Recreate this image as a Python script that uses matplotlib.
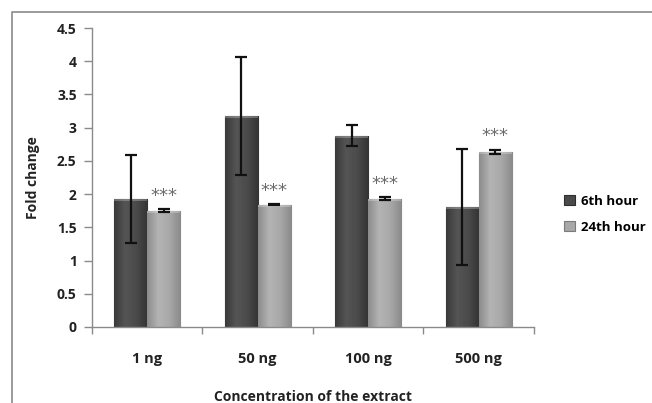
import numpy as np
import matplotlib
matplotlib.use("Agg")
import matplotlib.pyplot as plt
from matplotlib.patches import Rectangle
from matplotlib.lines import Line2D
from matplotlib.colors import LinearSegmentedColormap

plt.rcParams['font.family'] = ['Open Sans', 'DejaVu Sans']
plt.rcParams['font.weight'] = 'bold'

# data
categories = ['1 ng', '50 ng', '100 ng', '500 ng']
hour6 = [1.93, 3.18, 2.88, 1.81]
hour6_err = [0.66, 0.89, 0.16, 0.87]
hour24 = [1.75, 1.84, 1.93, 2.64]
hour24_err = [0.02, 0.01, 0.02, 0.03]
series_labels = ['6th hour', '24th hour']
stars = ['***', '***', '***', '***']

fig = plt.figure(figsize=(6.52, 4.03), dpi=100)
ax = fig.add_axes([0.141, 0.1886, 0.678, 0.7419])

x = np.arange(len(categories))
w = 0.3

dark = LinearSegmentedColormap.from_list('dark', ['#3a3a3a', '#555555', '#4a4a4a', '#333333'])
light = LinearSegmentedColormap.from_list('light', ['#8c8c8c', '#b4b4b4', '#a8a8a8', '#8a8a8a'])

b1 = ax.bar(x - w / 2, hour6, w, color='#4a4a4a', edgecolor='#2e2e2e', linewidth=0.8,
            label=series_labels[0], zorder=2)
b2 = ax.bar(x + w / 2, hour24, w, color='#a8a8a8', edgecolor='#7a7a7a', linewidth=0.8,
            label=series_labels[1], zorder=2)

grad = np.linspace(0, 1, 64).reshape(1, -1)
for bars, cmap in [(b1, dark), (b2, light)]:
    for p in bars:
        x0, y0 = p.get_x(), p.get_y()
        im = ax.imshow(grad, cmap=cmap, aspect='auto', zorder=2.5,
                       extent=[x0, x0 + p.get_width(), y0, y0 + p.get_height()])
        im.set_clip_path(p)
        # lighter rim at the top like the bevel
        ax.add_patch(Rectangle((x0, y0 + p.get_height() - 0.04), p.get_width(), 0.04,
                               facecolor='white', alpha=0.25, edgecolor='none', zorder=2.6))

ax.errorbar(x - w / 2, hour6, yerr=hour6_err, fmt='none', ecolor='#111111',
            elinewidth=1.6, capsize=4, capthick=1.6, zorder=4)
ax.errorbar(x + w / 2, hour24, yerr=hour24_err, fmt='none', ecolor='#111111',
            elinewidth=1.6, capsize=4, capthick=1.6, zorder=4)

for xi, v, e, s in zip(x, hour24, hour24_err, stars):
    ax.text(xi + w / 2, v + e + 0.2, s, ha='center', va='center', color='#6a6a6a',
            fontsize=13, fontweight='normal', family='DejaVu Sans')

ax.set_xlim(-0.5, len(categories) - 0.5)
ax.set_ylim(0, 4.5)
ax.set_yticks(np.arange(0, 4.51, 0.5))
ax.set_yticklabels(['0', '0.5', '1', '1.5', '2', '2.5', '3', '3.5', '4', '4.5'])
ax.set_xticks(x)
ax.set_xticklabels(categories)
ax.set_xticks(np.arange(-0.5, len(categories)), minor=True)

for s in ['top', 'right']:
    ax.spines[s].set_visible(False)
for s in ['left', 'bottom']:
    ax.spines[s].set_color('#8a8a8a')
    ax.spines[s].set_linewidth(1.0)

ax.tick_params(axis='y', direction='out', length=6, width=1, color='#8a8a8a',
               labelsize=10, pad=5, labelcolor='#222222')
ax.tick_params(axis='x', which='major', length=0, pad=18, labelsize=10.5, labelcolor='#222222')
ax.tick_params(axis='x', which='minor', direction='out', length=5, width=1, color='#8a8a8a')

ax.set_ylabel('Fold change', fontsize=10, fontweight='bold', labelpad=12, color='#222222')
ax.set_xlabel('Concentration of the extract', fontsize=10, fontweight='bold',
              labelpad=17, color='#222222')

leg = fig.legend(handles=[b1, b2], labels=series_labels, loc='upper left',
                 bbox_to_anchor=(0.857, 0.53), frameon=False, fontsize=9.5,
                 handlelength=0.8, handleheight=0.8, handletextpad=0.5,
                 labelspacing=1.0, borderaxespad=0)

# outer chart border (top and left visible in the reference)
fig.add_artist(Line2D([12 / 652, 12 / 652, 1.0], [0.0, 1 - 12 / 403, 1 - 12 / 403],
                      transform=fig.transFigure, color='#8a8a8a', linewidth=1.2))

fig.savefig('out.png', dpi=100)
